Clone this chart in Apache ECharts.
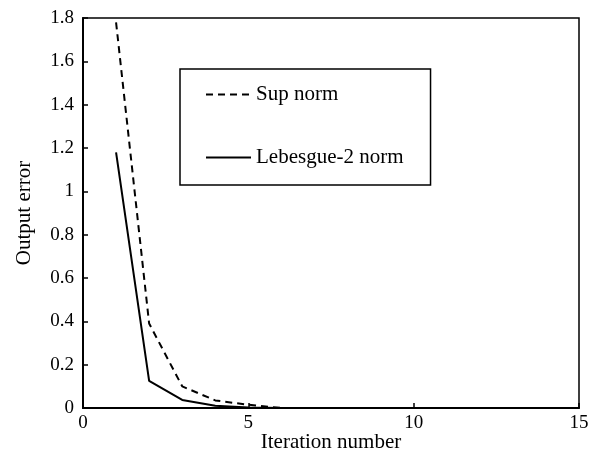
<!DOCTYPE html>
<html>
<head>
<meta charset="utf-8">
<script src="https://cdn.jsdelivr.net/npm/echarts@6/dist/echarts.min.js"></script>
<style>
  body { margin: 0; background: #fff; }
  #chart { width: 600px; height: 455px; }
</style>
</head>
<body>
<div id="chart"></div>
<script>
const iterations = [1, 2, 3, 4, 5, 6];
const supNorm = [1.78, 0.39, 0.1, 0.035, 0.015, 0];
const lebesgueNorm = [1.18, 0.125, 0.037, 0.01, 0.002, 0];

const font = 'Liberation Serif';

const chart = echarts.init(document.getElementById('chart'));
chart.setOption({
  animation: false,
  textStyle: { fontFamily: font, color: '#000' },
  grid: {
    left: 83, right: 21, top: 18, bottom: 47,
    outerBoundsMode: 'none',
    show: true, borderColor: '#000', borderWidth: 1.5
  },
  legend: {
    orient: 'vertical',
    left: 180, top: 69,
    padding: [15, 27, 17, 25],
    itemGap: 42,
    itemWidth: 45, itemHeight: 14,
    borderColor: '#000', borderWidth: 1.5,
    itemStyle: { opacity: 0 },
    textStyle: { fontFamily: font, fontSize: 21, color: '#000' },
    data: ['Sup norm', 'Lebesgue-2 norm']
  },
  xAxis: {
    type: 'value', min: 0, max: 15, interval: 5,
    name: 'Iteration number', nameLocation: 'middle', nameGap: 24,
    nameMoveOverlap: false,
    nameTextStyle: { fontFamily: font, fontSize: 21, color: '#000' },
    axisLine: { lineStyle: { color: '#000', width: 2 } },
    axisTick: { inside: true, length: 5, lineStyle: { color: '#000', width: 1.5 } },
    axisLabel: { fontFamily: font, fontSize: 19, color: '#000', margin: 6 },
    splitLine: { show: false }
  },
  yAxis: {
    type: 'value', min: 0, max: 1.8, interval: 0.2,
    name: 'Output error', nameLocation: 'middle', nameGap: 48,
    nameMoveOverlap: false,
    nameTextStyle: { fontFamily: font, fontSize: 21, color: '#000' },
    axisLine: { show: true, lineStyle: { color: '#000', width: 2 } },
    axisTick: { show: true, inside: true, length: 5, lineStyle: { color: '#000', width: 1.5 } },
    axisLabel: { fontFamily: font, fontSize: 19, color: '#000', margin: 9 },
    splitLine: { show: false }
  },
  series: [
    {
      name: 'Sup norm', type: 'line', symbol: 'none',
      data: iterations.map((x, i) => [x, supNorm[i]]),
      lineStyle: { color: '#000', width: 2, type: [7, 5] },
      itemStyle: { color: '#000' }
    },
    {
      name: 'Lebesgue-2 norm', type: 'line', symbol: 'none',
      data: iterations.map((x, i) => [x, lebesgueNorm[i]]),
      lineStyle: { color: '#000', width: 2 },
      itemStyle: { color: '#000' }
    }
  ]
});
</script>
</body>
</html>
